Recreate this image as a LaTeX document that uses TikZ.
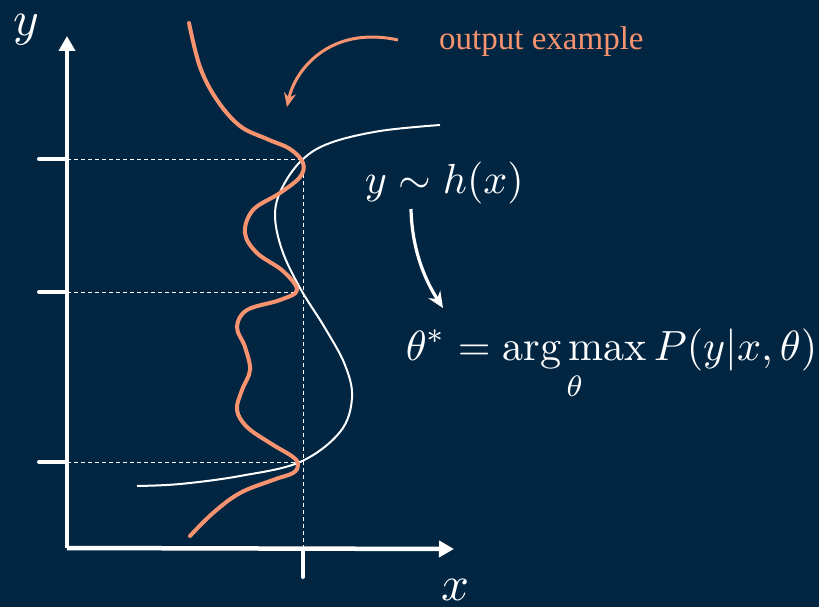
\documentclass[tikz,border=0pt]{standalone}
\usepackage{amsmath}
\usepackage{fontspec}
\newfontfamily\labelfont{Liberation Serif}
\usetikzlibrary{arrows.meta}
\definecolor{bg}{HTML}{022642}
\definecolor{salmon}{HTML}{F7936F}
\tikzset{
  axis/.style={white, line width=4.5pt, -{Triangle[length=15pt,width=16pt]}},
  tickmark/.style={white, line width=4pt, line cap=round},
  guide/.style={white, line width=0.9pt, dash pattern=on 4pt off 3pt},
  hcurve/.style={white, line width=2pt},
  ocurve/.style={salmon, line width=4pt, line cap=round},
  mathlbl/.style={white, inner sep=0pt},
}
\begin{document}
\begin{tikzpicture}[x=1pt,y=-1pt]
\fill[bg] (0,0) rectangle (819,607);
\useasboundingbox (0,0) rectangle (819,607);
% axes
\coordinate (O) at (67,548);
\coordinate (ytip) at (67,36);
\coordinate (xtip) at (454,549);
\draw[axis] (O) -- (ytip);
\draw[axis] (O) -- (xtip);
% ticks
\coordinate (t1a) at (39,159); \coordinate (t1b) at (67,159);
\coordinate (t2a) at (39,292); \coordinate (t2b) at (67,292);
\coordinate (t3a) at (39,462); \coordinate (t3b) at (67,462);
\coordinate (xta) at (303,550); \coordinate (xtb) at (303,577);
\draw[tickmark] (t1a) -- (t1b);
\draw[tickmark] (t2a) -- (t2b);
\draw[tickmark] (t3a) -- (t3b);
\draw[tickmark] (xta) -- (xtb);
% guides
\coordinate (g1) at (302,159);
\coordinate (g2) at (298,292);
\coordinate (g3) at (298,462);
\coordinate (gx) at (303,160);
\draw[guide] (t1b) -- (g1);
\draw[guide] (t2b) -- (g2);
\draw[guide] (t3b) -- (g3);
\draw[guide] (gx) -- (xta);
% white curve h(x)
\draw[hcurve] plot[smooth, tension=0.6] coordinates {
 (440,125) (380,131) (330,143) (302,160) (282,188) (275,215) (282,250)
 (300,288) (325,328) (345,365) (352,398) (340,432) (300,462) (240,476)
 (180,484) (137,486)};
% orange curve
\draw[ocurve] plot[smooth, tension=0.6] coordinates {
 (189,23) (200,67) (217,100) (240,126) (267,139) (290,149) (303,163)
 (300,177) (280,193) (253,210) (245,233) (257,253) (283,271) (297,290)
 (280,300) (247,310) (237,327) (245,347) (250,370) (242,390) (237,410)
 (247,427) (270,443) (293,457) (298,465) (293,473) (273,480) (240,493)
 (213,513) (190,536)};
% labels
\node[mathlbl, scale=4.9] (ylab) at (26,30) {$y$};
\node[mathlbl, scale=4.9] (xlab) at (455,590) {$x$};
\node[mathlbl, scale=4.2, anchor=west] (hx) at (364,183) {$y\sim h(x)$};
\node[mathlbl, scale=4.22, anchor=west] (theta) at (405,365)
  {$\displaystyle \theta^* = \operatorname*{arg\,max}_\theta P(y|x,\theta)$};
\node[salmon, inner sep=0pt, anchor=west, font=\labelfont\fontsize{33}{38}\selectfont] (oe) at (439,42) {output example};
% arrows
\coordinate (oa) at (398,40);
\coordinate (ob) at (287,107);
\draw[salmon, line width=3pt, -{Stealth[length=14pt,width=12pt,open]}] (oa) .. controls (330,25) and (295,70) .. (ob);
\coordinate (wa) at (411,209);
\coordinate (wb) at (443,308);
\draw[white, line width=3.2pt, -{Stealth[length=16pt,width=14pt]}] (wa) .. controls (412,250) and (425,280) .. (wb);
\end{tikzpicture}
\end{document}
